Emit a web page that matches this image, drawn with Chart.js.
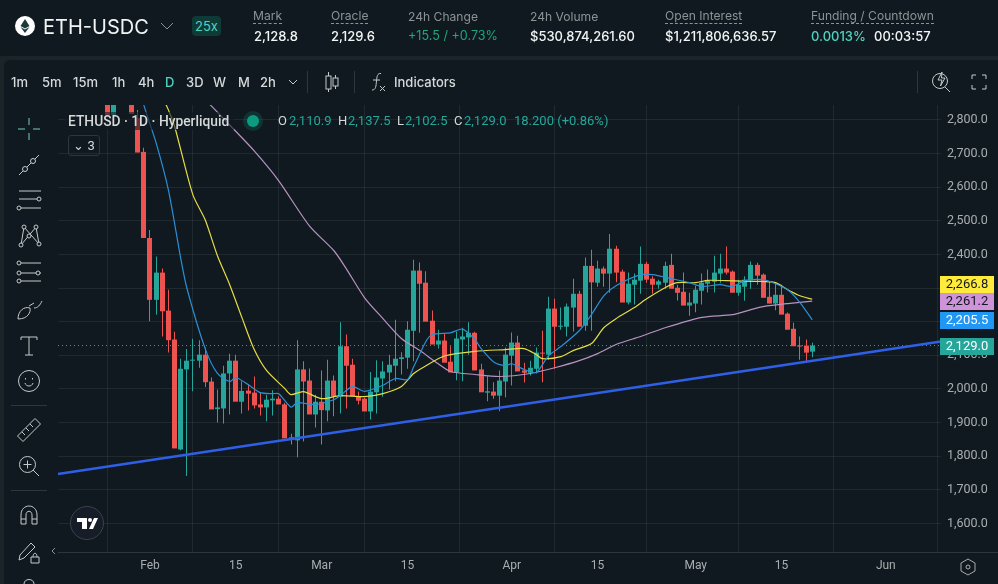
<!DOCTYPE html>
<html>
<head>
<meta charset="utf-8">
<title>ETH-USDC</title>
<script src="https://cdn.jsdelivr.net/npm/chart.js@4"></script>
<style>
  html, body { margin: 0; padding: 0; background: #1b2429; overflow: hidden; }
  #page { position: relative; width: 998px; height: 584px; font-family: Inter, sans-serif; color: #f2f5f5; }
  .panel { position: absolute; background: #10191f; }
  #chart { position: absolute; left: 0; top: 0; }
  .t { position: absolute; white-space: nowrap; line-height: 16px; }
  .lbl { color: #8c9396; font-size: 12.1px; }
  .dash { border-bottom: 1px dashed #8c9396; line-height: 14px; }
  .val { font-size: 13px; font-weight: 500; }
  .tf { font-size: 13px; font-weight: 500; top: 74px; color: #d5d9da; }
  .ic { position: absolute; fill: none; stroke: #c5cacc; stroke-width: 1; }
  .sep { position: absolute; background: #2c363b; }
  #legend { position: absolute; left: 64px; top: 112px; height: 18px; width: 544px; font-family: Roboto, sans-serif; font-size: 13px; line-height: 18px; }
  #legend span { position: absolute; top: 0; white-space: nowrap; }
  .up { color: #26a69a; }
</style>
</head>
<body>
<div id="page">
  <div class="panel" style="left:0;top:0;width:998px;height:56px"></div>
  <div class="panel" style="left:4px;top:60px;width:994px;height:524px;border-top-left-radius:6px"></div>
  <canvas id="chart" width="998" height="584"></canvas>
  <div class="sep" style="left:941px;top:552px;width:57px;height:1px"></div>

  <!-- header -->
  <svg class="ic" style="left:15px;top:16px;stroke:none" width="20" height="20" viewBox="0 0 20 20"><circle cx="10" cy="10" r="10" fill="#fff"/><path d="M10 3 L14.5 10 L10 12.6 L5.5 10Z" fill="#1c3a3a"/><path d="M10 13.6 L14.5 11 L10 17 L5.5 11Z" fill="#1c3a3a"/></svg>
  <div class="t" style="left:43px;top:16px;font-size:20px;line-height:22px">ETH-USDC</div>
  <svg class="ic" style="left:160px;top:21px;stroke:#8c9396" width="14" height="10"><path d="M1 2 L7 8 L13 2"/></svg>
  <div class="t" style="left:192px;top:16px;width:29px;height:20px;line-height:20px;text-align:center;background:#0e3a37;border-radius:4px;color:#50d2c1;font-size:13px">25x</div>
  <div class="t lbl dash" style="left:253px;top:9px">Mark</div>
  <div class="t val" style="left:254px;top:28px">2,128.8</div>
  <div class="t lbl dash" style="left:331px;top:9px">Oracle</div>
  <div class="t val" style="left:331px;top:28px">2,129.6</div>
  <div class="t lbl" style="left:408px;top:9px">24h Change</div>
  <div class="t val" style="left:408px;top:28px;color:#1fa67d;font-size:12.6px;font-weight:400">+15.5 / +0.73%</div>
  <div class="t lbl" style="left:530px;top:9px">24h Volume</div>
  <div class="t val" style="left:530px;top:28px">$530,874,261.60</div>
  <div class="t lbl dash" style="left:665px;top:9px">Open Interest</div>
  <div class="t val" style="left:665px;top:28px">$1,211,806,636.57</div>
  <div class="t lbl dash" style="left:811px;top:9px">Funding / Countdown</div>
  <div class="t val" style="left:811px;top:28px;color:#50d2c1">0.0013%</div>
  <div class="t val" style="left:874px;top:28px">00:03:57</div>

  <!-- timeframe toolbar -->
  <div class="t tf" style="left:11px">1m</div>
  <div class="t tf" style="left:42px">5m</div>
  <div class="t tf" style="left:73px">15m</div>
  <div class="t tf" style="left:112px">1h</div>
  <div class="t tf" style="left:138px">4h</div>
  <div class="t tf" style="left:165px;color:#50d2c1">D</div>
  <div class="t tf" style="left:186px">3D</div>
  <div class="t tf" style="left:213px">W</div>
  <div class="t tf" style="left:238px">M</div>
  <div class="t tf" style="left:260px">2h</div>
  <svg class="ic" style="left:288px;top:79px" width="10" height="6"><path d="M1 1 L5 5 L9 1"/></svg>
  <div class="sep" style="left:307px;top:71px;width:1px;height:22px"></div>
  <svg class="ic" style="left:324px;top:71px" width="16" height="22"><path d="M4.5 1V21M11.5 4V18"/><rect x="2" y="5" width="5" height="13" fill="#10191f"/><rect x="9" y="7" width="5" height="8" fill="#10191f"/></svg>
  <div class="sep" style="left:354px;top:71px;width:1px;height:22px"></div>
  <svg class="ic" style="left:370px;top:72px" width="16" height="20"><path d="M11 1.5 C7 1 7 5 6.5 9 C6 14 6 18 2 18M3 8H10M10 14L15 19M15 14L10 19"/></svg>
  <div class="t tf" style="left:394px">Indicators</div>
  <div class="sep" style="left:917px;top:71px;width:1px;height:22px"></div>
  <svg class="ic" style="left:931px;top:70px" width="20" height="24"><circle cx="9" cy="11" r="7.5"/><path d="M14 17L19 22"/><path d="M11 2L7 10H11L9.5 16L14 8H10.5Z" fill="#10191f"/></svg>
  <svg class="ic" style="left:971px;top:74px" width="16" height="16"><path d="M1 5V1H5M11 1H15V5M15 11V15H11M5 15H1V11"/></svg>

  <!-- drawing tools -->
  <svg class="ic" style="left:17px;top:117px;stroke:#6fd3bf" width="24" height="24"><path d="M12 1V8M12 16V23M1 12H8M16 12H23"/></svg>
  <svg class="ic" style="left:17px;top:153px" width="24" height="24"><path d="M2 22L22 2"/><circle cx="8" cy="16" r="2.5" fill="#10191f"/><circle cx="16" cy="8" r="2.5" fill="#10191f"/></svg>
  <svg class="ic" style="left:15px;top:188px" width="28" height="24"><path d="M4 3H26M4 11H26M4 20H26"/><circle cx="24" cy="11" r="2" fill="#10191f"/><circle cx="4" cy="20" r="2" fill="#10191f"/></svg>
  <svg class="ic" style="left:16px;top:224px" width="26" height="24"><path d="M5 21L8 3L23 20L20 3L5 21"/><circle cx="5" cy="21" r="2" fill="#10191f"/><circle cx="8" cy="3" r="2" fill="#10191f"/><circle cx="23" cy="20" r="2" fill="#10191f"/><circle cx="20" cy="3" r="2" fill="#10191f"/><circle cx="13" cy="12" r="2" fill="#10191f"/></svg>
  <svg class="ic" style="left:15px;top:260px" width="28" height="24"><path d="M6 3H26M6 13H26M6 21H26"/><circle cx="4" cy="3" r="2"/><circle cx="4" cy="13" r="2"/><circle cx="4" cy="21" r="2"/><circle cx="23" cy="13" r="2" fill="#10191f"/></svg>
  <svg class="ic" style="left:16px;top:298px" width="28" height="24"><path d="M2 21 C2 13 8 8 14 10 C15 14 12 21 2 21ZM13 8L18 5M18 10 C22 10 24 7 26 3"/></svg>
  <svg class="ic" style="left:20px;top:336px" width="18" height="20"><path d="M1 4V1H17V4M9 1V19M5 19H13"/></svg>
  <svg class="ic" style="left:18px;top:370px" width="22" height="22"><circle cx="11" cy="11" r="10.5"/><path d="M7 13 C8 17 14 17 15 13M7.5 8V9.5M14.5 8V9.5"/></svg>
  <div class="sep" style="left:11px;top:405px;width:36px;height:1px"></div>
  <svg class="ic" style="left:16px;top:417px" width="26" height="26"><path d="M1.5 19L19 1.5L24.5 7L7 24.5ZM6 15L9 18M10 11L13 14M14 7L17 10"/></svg>
  <svg class="ic" style="left:18px;top:455px" width="22" height="22"><circle cx="9.5" cy="9.5" r="8"/><path d="M15 15L21 21M9.5 5.5V13.5M5.5 9.5H13.5"/></svg>
  <div class="sep" style="left:11px;top:490px;width:36px;height:1px"></div>
  <svg class="ic" style="left:20px;top:505px" width="18" height="20"><path d="M1 19V10C1 -2 17 -2 17 10V19H12V10C12 5 6 5 6 10V19ZM1 14H6M12 14H17"/></svg>
  <svg class="ic" style="left:17px;top:540px" width="24" height="24"><path d="M2 20L3 15L14 3L18 7L7 18ZM14 23V17H22V23ZM16 17C16 12 20 12 20 17"/></svg>
  <svg class="ic" style="left:20px;top:578px" width="18" height="6"><path d="M4 6C4 0 14 0 14 6"/></svg>
  <svg class="ic" style="left:51px;top:547px;stroke:#8c9396" width="5" height="8"><path d="M4 1L1 4L4 7"/></svg>
  <svg class="ic" style="left:70px;top:506px;stroke:#3a4347" width="34" height="34"><circle cx="17" cy="17" r="16.5" fill="#161c28"/><path d="M7 12H17V23H12V16H7ZM24 12H28L23 23H19Z" fill="#fff" stroke="none"/><circle cx="20" cy="14" r="2" fill="#fff" stroke="none"/></svg>
  <svg class="ic" style="left:960px;top:558px;stroke:#a8aeb0" width="16" height="18"><path d="M8 1L15 5V13L8 17L1 13V5Z"/><circle cx="8" cy="9" r="2"/></svg>

  <!-- legend -->
  <div id="legend">
    <span style="left:0;width:170px;height:18px;background:rgba(16,25,31,.6)"></span>
    <span style="left:4px;color:#d5d9da;font-size:13.8px;font-weight:500">ETHUSD · 1D · Hyperliquid</span>
    <span style="left:183px;top:3px;width:12px;height:12px;border-radius:6px;background:#0d9b80;box-shadow:0 0 0 4px rgba(13,155,128,.2)"></span>
    <span style="left:214px;color:#d5d9da">O</span><span class="up" style="left:225px">2,110.9</span>
    <span style="left:274px;color:#d5d9da">H</span><span class="up" style="left:284px">2,137.5</span>
    <span style="left:333px;color:#d5d9da">L</span><span class="up" style="left:341px">2,102.5</span>
    <span style="left:390px;color:#d5d9da">C</span><span class="up" style="left:400px">2,129.0</span>
    <span class="up" style="left:450px">18.200 (+0.86%)</span>
  </div>
  <div class="t" style="left:68px;top:135px;width:30px;height:19px;line-height:19px;border:1px solid #2c363b;border-radius:3px;font:13px/19px Roboto,sans-serif;color:#d5d9da;text-align:center">⌄ 3</div>
</div>

<script>
// first and last day on the axis, 0 = 1 Feb
const firstDay = -15;
const lastDay = 129;
const monthNames = ['Jan', 'Feb', 'Mar', 'Apr', 'May', 'Jun'];

// candles from 25 Jan (day -7) to 20 May (day 108)
const candleStart = -7;
const opens = [2880,2815,2890,2945,2905,2806,2705,2449,2265,2346,2233,2147,1820,2058,2084,2084,2102,2022,1940,1942,2046,2084,1962,1995,1989,1954,1945,1966,1971,1954,1856,1847,2058,2025,1924,1962,1936,2025,1977,2127,2072,1978,1971,1933,1990,2031,2049,2069,2089,2093,2173,2352,2316,2203,2132,2144,2081,2049,2147,2153,2167,2058,1989,1992,1980,2022,2099,2138,2055,2048,2060,2108,2102,2239,2185,2185,2242,2283,2188,2366,2316,2358,2343,2417,2349,2257,2310,2322,2372,2328,2310,2316,2369,2301,2289,2248,2254,2292,2313,2319,2343,2358,2349,2286,2304,2323,2369,2340,2274,2254,2280,2224,2179,2128,2129,2110.9];
const highs = [2900,2890,2960,2980,2935,2830,2717,2473,2394,2358,2295,2170,2090,2119,2149,2145,2123,2034,1998,2069,2105,2102,2023,2013,2037,1989,1983,1996,1978,1959,1867,2145,2082,2061,1983,2055,2087,2040,2198,2162,2090,1992,1974,2050,2085,2082,2102,2206,2109,2201,2384,2376,2350,2233,2176,2164,2127,2171,2182,2198,2170,2075,2038,2020,2055,2123,2168,2158,2078,2084,2123,2173,2274,2268,2242,2254,2328,2292,2391,2414,2381,2364,2461,2426,2355,2346,2343,2424,2378,2335,2325,2378,2402,2310,2346,2286,2307,2343,2355,2396,2402,2424,2352,2325,2335,2379,2375,2343,2320,2316,2310,2227,2197,2156,2147,2137.5];
const lows = [2810,2812,2870,2880,2840,2755,2634,2201,2221,2156,2108,2078,1818,1741,1993,2063,2006,1986,1900,1897,1924,2038,1927,1936,1942,1921,1904,1921,1954,1933,1835,1797,1844,1974,1885,1835,1904,1919,1927,1942,2055,1954,1946,1909,1927,1977,1998,2023,2043,2060,2082,2167,2295,2153,2120,2115,2063,2026,2023,2102,2147,2034,1963,1971,1934,1975,2010,2072,2019,2040,2046,2020,2087,2060,2176,2156,2171,2215,2173,2173,2304,2304,2286,2317,2335,2251,2251,2283,2316,2283,2298,2298,2307,2263,2254,2218,2228,2251,2287,2287,2316,2340,2340,2277,2262,2298,2310,2304,2254,2234,2236,2204,2162,2087,2078,2094,2102.5];
const closes = [2815,2875,2945,2905,2818,2703,2449,2265,2346,2231,2145,1823,2060,2084,2087,2102,2020,1939,1945,2046,2084,1962,1994,1986,1951,1945,1968,1971,1954,1853,1848,2058,2022,1924,1962,1937,2025,1977,2127,2069,1978,1965,1933,1992,2034,2052,2072,2090,2094,2176,2352,2313,2200,2132,2144,2078,2049,2150,2156,2167,2055,1990,1993,1980,2025,2102,2138,2052,2048,2063,2108,2105,2239,2185,2188,2245,2283,2185,2366,2317,2358,2343,2417,2346,2257,2313,2325,2372,2325,2310,2320,2366,2298,2286,2248,2257,2295,2316,2322,2346,2358,2346,2286,2310,2325,2369,2337,2271,2254,2280,2221,2176,2127,2126,2108,2129];

// moving averages, read at the days listed
const blueDays = [-2,-1,1,3,5,6,9,11,13,14,16,18,20,21,23,24,27,30,31,33,35,38,40,42,43,45,46,49,51,53,54,56,58,59,61,63,65,67,70,72,74,76,80,82,85,88,90,93,95,97,100,102,104,106,108];
const blueValues = [2920,2844,2732,2592,2390,2301,2120,2046,2022,2034,2013,1989,1986,1986,1946,1959,1954,1968,1980,2007,1993,2011,2031,2028,2066,2141,2161,2167,2178,2147,2120,2081,2069,2075,2058,2049,2099,2126,2173,2221,2277,2307,2340,2340,2328,2316,2305,2310,2305,2322,2325,2313,2295,2257,2205.5];
const yellowDays = [2,3,4,7,9,11,13,15,17,19,22,23,25,28,31,35,38,41,43,45,48,53,58,61,63,64,67,69,72,74,76,79,81,84,86,89,91,94,99,102,104,106,108];
const yellowValues = [2870,2830,2782,2577,2503,2396,2310,2212,2117,2055,2001,1983,1992,1971,1980,1977,1986,2007,2046,2069,2098,2112,2117,2120,2102,2090,2096,2114,2135,2182,2209,2242,2268,2301,2316,2316,2323,2322,2320,2316,2295,2277,2266.8];
const purpleDays = [9,10,13,17,21,26,30,32,35,38,41,44,47,49,53,57,62,66,70,73,76,80,84,90,95,98,100,104,108];
const purpleValues = [2860,2842,2785,2708,2619,2485,2411,2358,2271,2209,2150,2114,2075,2052,2043,2037,2046,2063,2084,2105,2132,2156,2182,2213,2221,2236,2245,2254,2261.2];

// hand drawn trend line
const trendDays = [-15,129];
const trendValues = [1747,2141];

const lastPrice = 2129.0;
const yTicks = [1600,1700,1800,1900,2000,2100,2200,2300,2400,2500,2600,2700,2800];
const tagValues = [2129.0,2205.5,2261.2,2266.8];
const tagColors = ['#26a69a','#2196f3','#ce93d8','#ffeb3b'];
const tagTextColors = ['#ffffff','#ffffff','#131722','#131722'];

const upColor = '#26a69a';
const downColor = '#ef5350';

// category labels are real dates
const labels = [];
for (let d = firstDay; d <= lastDay; d++) {
  const dt = new Date(Date.UTC(2026, 1, 1 + d));
  labels.push(dt.toISOString().slice(0, 10));
}

// put values read at some days on the daily axis, the rest stay empty
function onAxis(days, values) {
  const out = labels.map(() => null);
  days.forEach((d, i) => { out[d - firstDay] = values[i]; });
  return out;
}

const candleDays = opens.map((_, i) => candleStart + i);
const bodies = onAxis(candleDays, opens.map((o, i) => [o, closes[i]]));
const wicks = onAxis(candleDays, lows.map((l, i) => [l, highs[i]]));
const candleColors = onAxis(candleDays, opens.map((o, i) => closes[i] >= o ? upColor : downColor));

function maLine(days, values, color) {
  return { type: 'line', data: onAxis(days, values), borderColor: color, borderWidth: 1.2, pointRadius: 0, spanGaps: true, tension: 0.25, order: 2 };
}

// keep wicks and bodies on whole pixels so they stay sharp
const crispBars = {
  id: 'crispBars',
  beforeDatasetsDraw(chart) {
    chart.getSortedVisibleDatasetMetas().forEach(meta => {
      if (meta.type !== 'bar') return;
      meta.data.forEach(bar => { bar.x = Math.floor(bar.x) + 0.5; });
    });
  }
};

// price tags on the right axis, pushed up when they would overlap
const priceTags = {
  id: 'priceTags',
  afterDraw(chart) {
    const ctx = chart.ctx;
    const y = chart.scales.y;
    let prevTop = Infinity;
    ctx.save();
    ctx.font = '13px Roboto, sans-serif';
    ctx.textAlign = 'center';
    ctx.textBaseline = 'middle';
    tagValues.forEach((v, i) => {
      const top = Math.min(Math.round(y.getPixelForValue(v)) - 8, prevTop - 17);
      ctx.fillStyle = tagColors[i];
      ctx.fillRect(940, top, 54, 17);
      ctx.fillStyle = tagTextColors[i];
      ctx.fillText(v.toLocaleString('en-US', { minimumFractionDigits: 1 }), 967, top + 9);
      prevTop = top;
    });
    ctx.restore();
  }
};

new Chart(document.getElementById('chart'), {
  data: {
    labels: labels,
    datasets: [
      { type: 'line', data: onAxis(trendDays, trendValues), borderColor: '#2f5fe6', borderWidth: 2.5, pointRadius: 0, spanGaps: true, order: 0 },
      maLine(blueDays, blueValues, '#2b8fd6'),
      maLine(yellowDays, yellowValues, '#e6dc46'),
      maLine(purpleDays, purpleValues, '#b792c2'),
      { type: 'bar', data: bodies, backgroundColor: candleColors, barThickness: 5, grouped: false, minBarLength: 1, inflateAmount: 0, order: 4 },
      { type: 'bar', data: wicks, backgroundColor: candleColors, barThickness: 1, grouped: false, inflateAmount: 0, order: 5 },
      { type: 'line', data: onAxis([firstDay, lastDay], [lastPrice, lastPrice]), borderColor: '#26a69a', borderWidth: 1, borderDash: [1, 3], pointRadius: 0, spanGaps: true, order: 6 }
    ]
  },
  plugins: [crispBars, priceTags],
  options: {
    responsive: false,
    animation: false,
    events: [],
    layout: { padding: { left: 58, top: 105 } },
    plugins: { legend: { display: false }, tooltip: { enabled: false } },
    scales: {
      x: {
        offset: false,
        afterFit(s) { s.height = 32; },
        grid: { color: 'rgba(255,255,255,0.07)', drawTicks: false },
        border: { color: '#2c363b' },
        ticks: {
          autoSkip: false,
          maxRotation: 0,
          padding: 7,
          color: '#a8aeb0',
          font: { family: 'Roboto, sans-serif', size: 12 },
          callback(val) {
            const day = this.getLabelForValue(val).slice(8, 10);
            const month = +this.getLabelForValue(val).slice(5, 7);
            if (day === '01') return monthNames[month - 1];
            if (day === '15') return '15';
            return null;
          }
        }
      },
      y: {
        position: 'right',
        min: 1515,
        max: 2844.5,
        afterFit(s) { s.width = 57; },
        afterBuildTicks(s) { s.ticks = yTicks.map(v => ({ value: v })); },
        grid: { color: 'rgba(255,255,255,0.07)', drawTicks: false },
        border: { display: false },
        ticks: {
          padding: 6,
          color: '#a8aeb0',
          font: { family: 'Roboto, sans-serif', size: 12.5 },
          callback: v => v.toLocaleString('en-US', { minimumFractionDigits: 1 })
        }
      }
    }
  }
});
</script>
</body>
</html>
